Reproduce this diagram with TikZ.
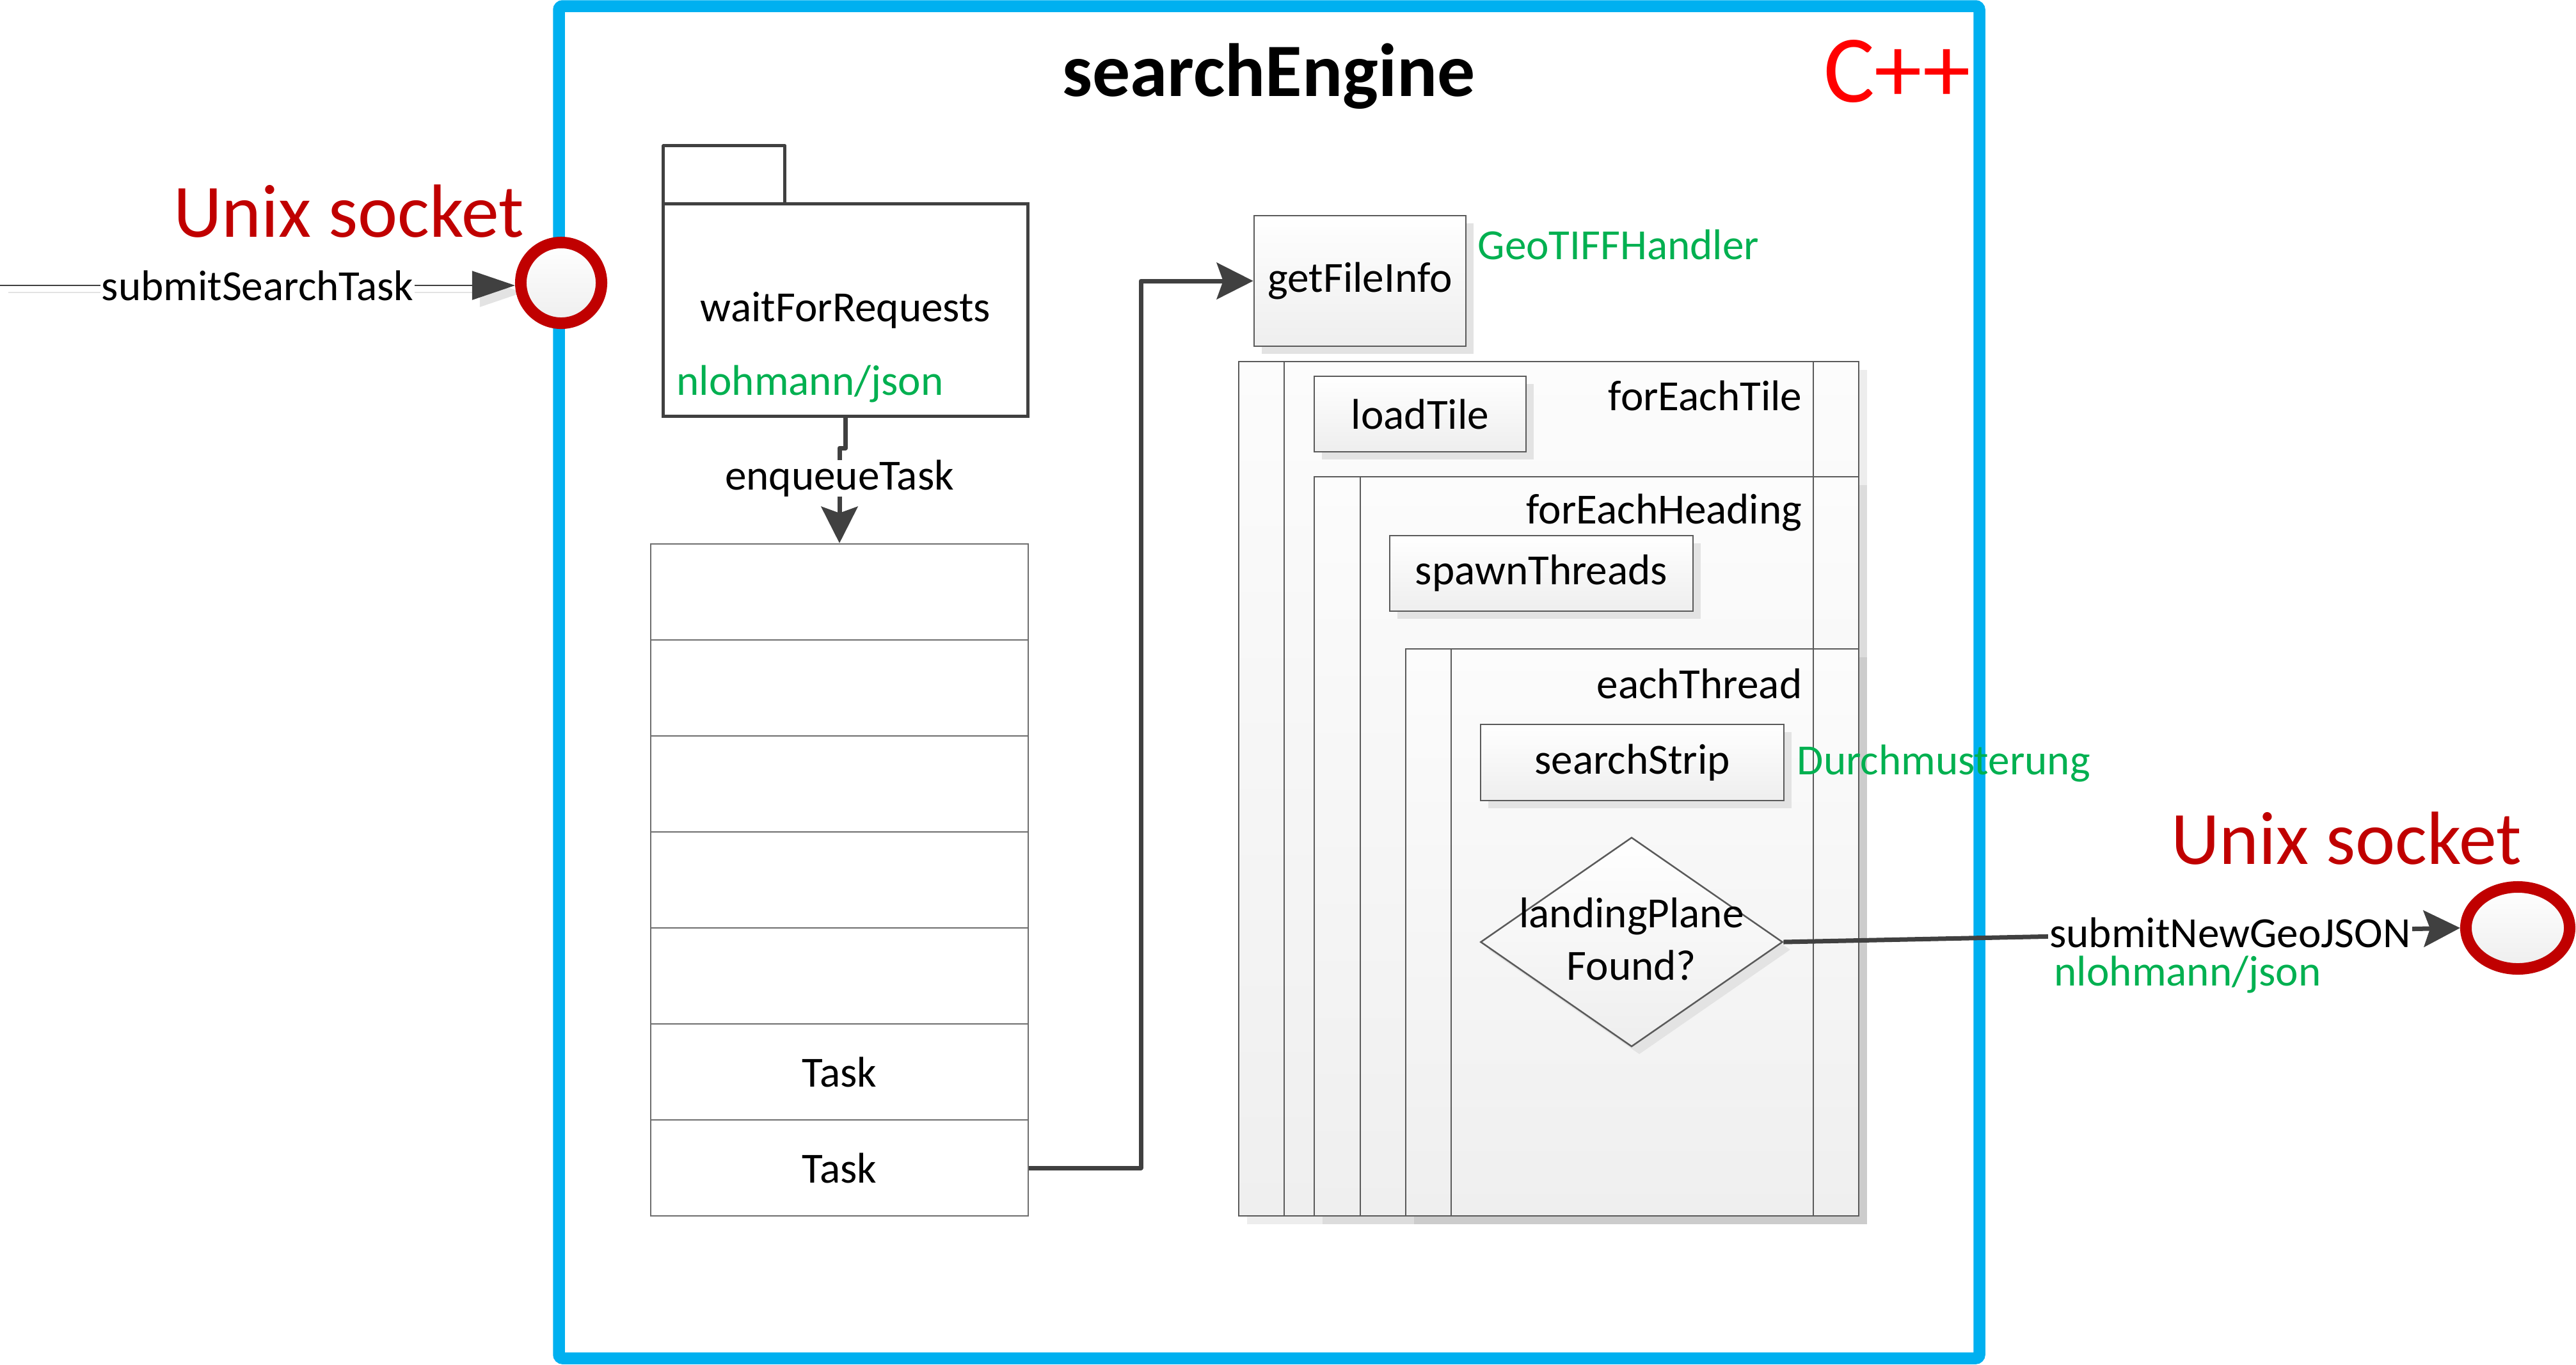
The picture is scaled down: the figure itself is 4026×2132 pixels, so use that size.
\documentclass[tikz,border=0pt]{standalone}
\usepackage{fontspec}
\setmainfont{Carlito}
\usetikzlibrary{arrows.meta,shapes.geometric,shadows,calc}
\definecolor{conn}{HTML}{404040}
\definecolor{boxline}{HTML}{5A5A5A}
\definecolor{boxbot}{HTML}{EEEEEE}
\definecolor{frtop}{HTML}{FCFCFC}
\definecolor{frbot}{HTML}{EFEFEF}
\definecolor{jgreen}{HTML}{00B050}
\definecolor{sockred}{HTML}{C00000}
\definecolor{cppred}{HTML}{FF0000}
\definecolor{frameblue}{HTML}{00B0F0}
\definecolor{qline}{HTML}{6E6E6E}
\definecolor{shadowgray}{HTML}{E3E3E3}
\newcommand\lblfont{\fontsize{19.1pt}{23pt}\selectfont}
\newcommand\sockfont{\fontsize{33.5pt}{40pt}\selectfont}
\newcommand\ttlfont{\bfseries\fontsize{33.5pt}{40pt}\selectfont}
\newcommand\cppfont{\fontsize{42.5pt}{51pt}\selectfont}
\begin{document}
\begin{tikzpicture}[x=0.01cm,y=-0.01cm,
  txt/.style={font=\lblfont, inner sep=0pt},
  lblbg/.style={font=\lblfont, fill=white, inner xsep=0.02cm, inner ysep=0pt},
  box/.style={draw=boxline, line width=0.025cm, top color=white, bottom color=boxbot,
    inner sep=0pt, font=\lblfont,
    drop shadow={shadow xshift=0.12cm, shadow yshift=-0.12cm, fill=shadowgray, opacity=1}},
  qrow/.style={draw=qline, line width=0.025cm, fill=white, minimum width=5.9cm,
    minimum height=1.5cm, inner sep=0pt, font=\lblfont},
  loopline/.style={draw=boxline, line width=0.025cm},
  loopshadow/.style={fill=black, opacity=0.07},
  connline/.style={draw=conn, line width=0.07cm, line join=round,
    -{Stealth[length=0.57cm,width=0.57cm,inset=0.1cm]}},
  thinconn/.style={draw=conn, line width=0.022cm,
    -{Triangle[length=0.67cm,width=0.45cm]}},
  sockstyle/.style={draw=sockred, line width=0.18cm, top color=white, bottom color=boxbot, inner sep=0pt}
]
\useasboundingbox (0,0) rectangle (4026,2132);

% outer blue frame
\draw[frameblue, line width=0.185cm, rounded corners=0.06cm] (873.5,9.5) rectangle (3093.5,2122.5);

% title
\node[font=\ttlfont, anchor=base, inner sep=0pt] (title) at (1983,150) {searchEngine};
\node[font=\cppfont, text=cppred, anchor=base, inner sep=0pt] (cpp) at (2965,159) {C++};

% socket labels
\node[font=\sockfont, text=sockred, anchor=base, inner sep=0pt] (uL) at (545,370) {Unix socket};
\node[font=\sockfont, text=sockred, anchor=base, inner sep=0pt] (uR) at (3667,1350) {Unix socket};

% waitForRequests package
\node[draw=conn, line width=0.05cm, fill=white, minimum width=5.69cm, minimum height=3.31cm,
  inner sep=0pt, outer sep=0pt, font=\lblfont] (wait) at (1321.5,484.5) {waitForRequests};
\draw[conn, line width=0.05cm, line join=round] (wait.north west) rectangle ++(190,-91);
\node[txt, text=jgreen, anchor=base west] (wj) at (1057,617) {nlohmann/json};

% queue
\node[qrow] (q1) at (1312,925) {};
\node[qrow] (q2) at (1312,1075) {};
\node[qrow] (q3) at (1312,1225) {};
\node[qrow] (q4) at (1312,1375) {};
\node[qrow] (q5) at (1312,1525) {};
\node[qrow] (q6) at (1312,1675) {Task};
\node[qrow] (q7) at (1312,1825) {Task};

% getFileInfo
\node[box, minimum width=3.31cm, minimum height=2.04cm] (gfi) at (2125.5,439) {getFileInfo};
\node[txt, text=jgreen, anchor=base west] (gt) at (2309,405) {GeoTIFFHandler};

% loop forEachTile
\fill[loopshadow] (1949,578) rectangle (2918,1913);
\path[loopline, top color=frtop, bottom color=frbot] (1936,565) rectangle (2905,1900);
\draw[loopline] (2007,565) -- (2007,1900) (2834,565) -- (2834,1900);
\node[txt, anchor=base east] (ftile) at (2817,641) {forEachTile};
\node[box, minimum width=3.31cm, minimum height=1.18cm] (lt) at (2219.5,647) {loadTile};

% loop forEachHeading
\fill[loopshadow] (2067,758) rectangle (2918,1913);
\path[loopline, top color=frtop, bottom color=frbot] (2054,745) rectangle (2905,1900);
\draw[loopline] (2126,745) -- (2126,1900) (2834,745) -- (2834,1900);
\node[txt, anchor=base east] (fhead) at (2817,818) {forEachHeading};
\node[box, minimum width=4.74cm, minimum height=1.18cm] (st) at (2409,896) {spawnThreads};

% loop eachThread
\fill[loopshadow] (2210,1027) rectangle (2918,1913);
\path[loopline, top color=frtop, bottom color=frbot] (2197,1014) rectangle (2905,1900);
\draw[loopline] (2268,1014) -- (2268,1900) (2834,1014) -- (2834,1900);
\node[txt, anchor=base east] (fthr) at (2817,1091) {eachThread};
\node[box, minimum width=4.74cm, minimum height=1.19cm] (ss) at (2551,1191.5) {searchStrip};
\node[txt, text=jgreen, anchor=base west] (dm) at (2808,1210) {Durchmusterung};

% decision
\node[box, diamond, minimum width=4.72cm, minimum height=3.27cm] (dia) at (2550,1472) {};
\node[txt, anchor=base] (dt1) at (2550,1449) {landingPlane};
\node[txt, anchor=base] (dt2) at (2550,1531) {Found?};

% sockets
\coordinate (lin) at (0,446);
\draw[shadowgray, line width=0.022cm, -{Triangle[length=0.67cm,width=0.45cm]}]
  ([shift={(13,11)}]lin) -- ([shift={(12,11)}]lin -| 805,446);
\node[sockstyle, circle, minimum size=1.26cm] (sockL) at (877,442) {};
\node[sockstyle, ellipse, minimum width=1.62cm, minimum height=1.28cm] (sockR) at (3935,1450) {};

% connectors
\draw[thinconn] (lin) -- node[lblbg] (sst) {submitSearchTask} (lin -| sockL.west);
\draw[connline] (wait.south) -- ++(0,50) coordinate (jog) -- (jog -| q1.north)
  -- node[lblbg, pos=0.32] (enq) {enqueueTask} (q1.north);
\coordinate (tc) at (1783,1825);
\draw[connline] (q7.east) -- (tc) |- (gfi.west);
\draw[connline] (dia.east) -- node[lblbg, pos=0.66] (sng) {submitNewGeoJSON} (sockR.west);
\node[txt, text=jgreen, anchor=base west] (rj) at (3210,1540) {nlohmann/json};
\end{tikzpicture}
\end{document}
